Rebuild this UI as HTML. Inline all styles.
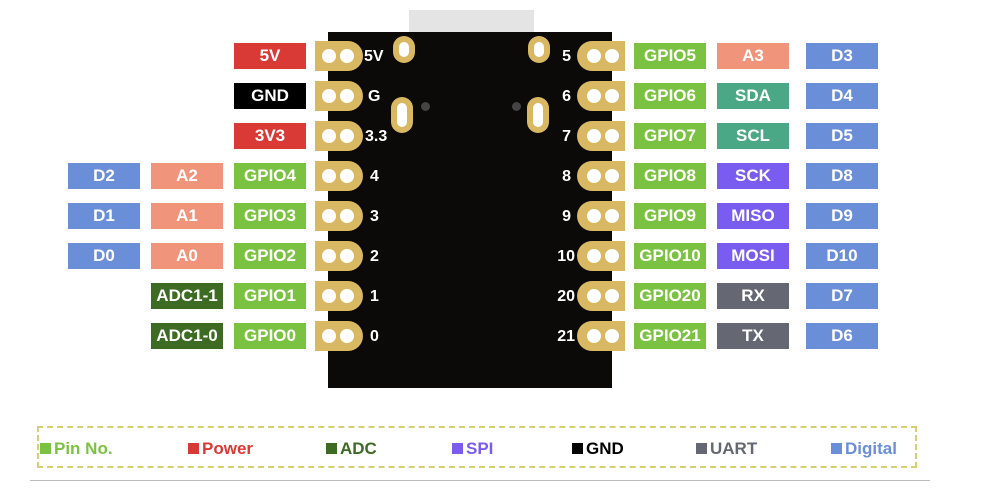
<!DOCTYPE html>
<html><head><meta charset="utf-8"><style>
body{margin:0;width:1000px;height:500px;background:#fff;position:relative;overflow:hidden;font-family:"Liberation Sans",sans-serif;}
.b{position:absolute;height:26px;line-height:26px;color:#fff;font-weight:bold;font-size:17px;text-align:center;width:72px}
.r{background:#d93a35}.k{background:#000}.g{background:#7cc242}.s{background:#f0947c}.u{background:#6a8fd8}.dg{background:#3e6b23}.p{background:#7b5cf0}.gr{background:#656872}.t{background:#4ba886}
.pl,.pr{position:absolute;width:48px;height:30px;background:#d9b863}
.pl{left:315px;border-radius:0 15px 15px 0}
.pr{left:577px;border-radius:15px 0 0 15px}
.pl i,.pr i{position:absolute;top:8px;width:14px;height:14px;border-radius:50%;background:#fff}
.pl i:first-child{left:7px}.pl i:last-child{left:25px}
.pr i:first-child{left:10px}.pr i:last-child{left:28px}
.n{position:absolute;color:#fff;font-weight:bold;font-size:16px;line-height:20px}
.nr{position:absolute;color:#fff;font-weight:bold;font-size:16px;line-height:20px;width:40px;text-align:right;left:535px}
.slot{position:absolute;width:22px;height:40px;border-radius:11px;background:#d9b863}
.slot:after{content:"";position:absolute;left:6px;top:6px;width:10px;bottom:6px;border-radius:5px;background:#fff}
.lg{position:absolute;top:439px;font-weight:bold;font-size:17px}
.lg b{display:inline-block;width:11px;height:11px;margin-right:3px}
</style></head><body>
<div style="position:absolute;left:409px;top:10px;width:125px;height:24px;background:#e4e4e4"></div>
<div style="position:absolute;left:328px;top:32px;width:284px;height:356px;background:#0c0a09"></div>
<div class="slot" style="left:393px;top:36px;height:27px"></div>
<div class="slot" style="left:528px;top:36px;height:27px"></div>
<div class="slot" style="left:391px;top:97px;height:36px"></div>
<div class="slot" style="left:527px;top:97px;height:36px"></div>
<div style="position:absolute;left:421px;top:102px;width:9px;height:9px;border-radius:50%;background:#444"></div>
<div style="position:absolute;left:512px;top:102px;width:9px;height:9px;border-radius:50%;background:#444"></div>

<div class="pl" style="top:41px"><i></i><i></i></div>
<div class="pl" style="top:81px"><i></i><i></i></div>
<div class="pl" style="top:121px"><i></i><i></i></div>
<div class="pl" style="top:161px"><i></i><i></i></div>
<div class="pl" style="top:201px"><i></i><i></i></div>
<div class="pl" style="top:241px"><i></i><i></i></div>
<div class="pl" style="top:281px"><i></i><i></i></div>
<div class="pl" style="top:321px"><i></i><i></i></div>
<div class="n" style="left:364px;top:47px">5V</div>
<div class="n" style="left:368px;top:87px">G</div>
<div class="n" style="left:365px;top:127px">3.3</div>
<div class="n" style="left:370px;top:167px">4</div>
<div class="n" style="left:370px;top:207px">3</div>
<div class="n" style="left:370px;top:247px">2</div>
<div class="n" style="left:370px;top:287px">1</div>
<div class="n" style="left:370px;top:327px">0</div>

<div class="pr" style="top:41px"><i></i><i></i></div>
<div class="pr" style="top:81px"><i></i><i></i></div>
<div class="pr" style="top:121px"><i></i><i></i></div>
<div class="pr" style="top:161px"><i></i><i></i></div>
<div class="pr" style="top:201px"><i></i><i></i></div>
<div class="pr" style="top:241px"><i></i><i></i></div>
<div class="pr" style="top:281px"><i></i><i></i></div>
<div class="pr" style="top:321px"><i></i><i></i></div>
<div class="nr" style="top:47px;left:531px">5</div>
<div class="nr" style="top:87px;left:531px">6</div>
<div class="nr" style="top:127px;left:531px">7</div>
<div class="nr" style="top:167px;left:531px">8</div>
<div class="nr" style="top:207px;left:531px">9</div>
<div class="nr" style="top:247px">10</div>
<div class="nr" style="top:287px">20</div>
<div class="nr" style="top:327px">21</div>

<div class="b r" style="left:234px;top:43px">5V</div>
<div class="b k" style="left:234px;top:83px">GND</div>
<div class="b r" style="left:234px;top:123px">3V3</div>
<div class="b g" style="left:234px;top:163px">GPIO4</div>
<div class="b g" style="left:234px;top:203px">GPIO3</div>
<div class="b g" style="left:234px;top:243px">GPIO2</div>
<div class="b g" style="left:234px;top:283px">GPIO1</div>
<div class="b g" style="left:234px;top:323px">GPIO0</div>
<div class="b s" style="left:151px;top:163px">A2</div>
<div class="b s" style="left:151px;top:203px">A1</div>
<div class="b s" style="left:151px;top:243px">A0</div>
<div class="b dg" style="left:151px;top:283px">ADC1-1</div>
<div class="b dg" style="left:151px;top:323px">ADC1-0</div>
<div class="b u" style="left:68px;top:163px">D2</div>
<div class="b u" style="left:68px;top:203px">D1</div>
<div class="b u" style="left:68px;top:243px">D0</div>

<div class="b g" style="left:634px;top:43px">GPIO5</div>
<div class="b g" style="left:634px;top:83px">GPIO6</div>
<div class="b g" style="left:634px;top:123px">GPIO7</div>
<div class="b g" style="left:634px;top:163px">GPIO8</div>
<div class="b g" style="left:634px;top:203px">GPIO9</div>
<div class="b g" style="left:634px;top:243px">GPIO10</div>
<div class="b g" style="left:634px;top:283px">GPIO20</div>
<div class="b g" style="left:634px;top:323px">GPIO21</div>
<div class="b s" style="left:717px;top:43px">A3</div>
<div class="b t" style="left:717px;top:83px">SDA</div>
<div class="b t" style="left:717px;top:123px">SCL</div>
<div class="b p" style="left:717px;top:163px">SCK</div>
<div class="b p" style="left:717px;top:203px">MISO</div>
<div class="b p" style="left:717px;top:243px">MOSI</div>
<div class="b gr" style="left:717px;top:283px">RX</div>
<div class="b gr" style="left:717px;top:323px">TX</div>
<div class="b u" style="left:806px;top:43px">D3</div>
<div class="b u" style="left:806px;top:83px">D4</div>
<div class="b u" style="left:806px;top:123px">D5</div>
<div class="b u" style="left:806px;top:163px">D8</div>
<div class="b u" style="left:806px;top:203px">D9</div>
<div class="b u" style="left:806px;top:243px">D10</div>
<div class="b u" style="left:806px;top:283px">D7</div>
<div class="b u" style="left:806px;top:323px">D6</div>

<div style="position:absolute;left:37px;top:426px;width:876px;height:38px;border:2px dashed #d8d070"></div>
<div class="lg" style="left:40px;color:#7cc242"><b style="background:#7cc242"></b>Pin No.</div>
<div class="lg" style="left:188px;color:#d93a35"><b style="background:#d93a35"></b>Power</div>
<div class="lg" style="left:326px;color:#3e6b23"><b style="background:#3e6b23"></b>ADC</div>
<div class="lg" style="left:452px;color:#7b5cf0"><b style="background:#7b5cf0"></b>SPI</div>
<div class="lg" style="left:572px;color:#000"><b style="background:#000"></b>GND</div>
<div class="lg" style="left:696px;color:#656872"><b style="background:#656872"></b>UART</div>
<div class="lg" style="left:831px;color:#6a8fd8"><b style="background:#6a8fd8"></b>Digital</div>
<div style="position:absolute;left:30px;top:480px;width:900px;height:1px;background:#bbb"></div>
</body></html>
